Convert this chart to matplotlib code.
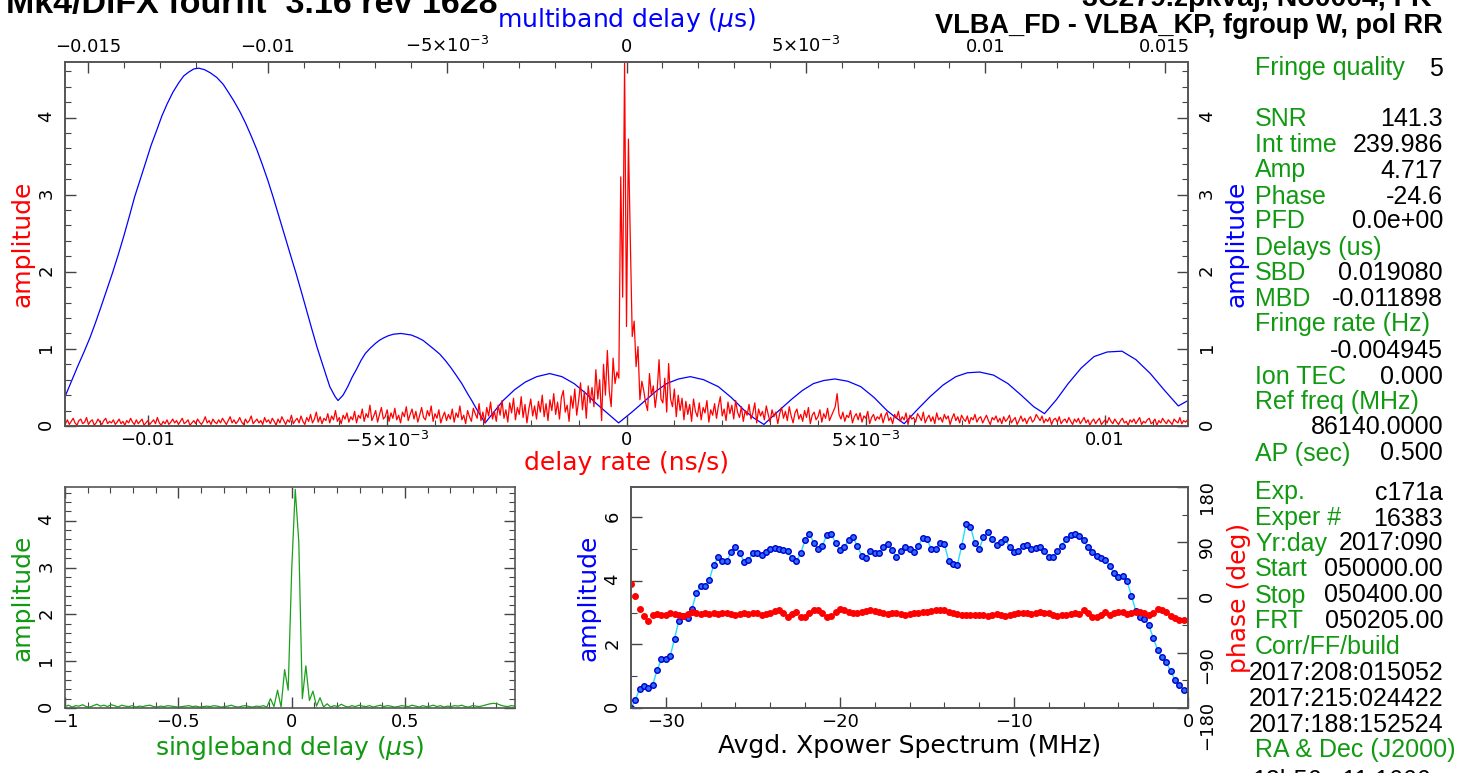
import numpy as np
import matplotlib
matplotlib.use('Agg')
import matplotlib.pyplot as plt
from matplotlib.ticker import MultipleLocator, FixedLocator, FixedFormatter

W, H = 1462, 773

# delay rate spectrum (red), amplitude x100, one sample every 4e-5 ns/s
rate_start = -0.01172
rate_step = 0.00004
rate_amp = [
    3, 8, 2, 6, 10, 4, 1, 7, 9, 3, 5, 11, 2, 6, 8, 1, 4, 9, 5, 2, 7, 10, 3, 6, 4,
    8, 2, 5, 9, 3, 6, 1, 7, 4, 10, 5, 2, 8, 3, 6, 9, 1, 4, 7, 2, 5, 8, 3, 11, 4,
    1, 6, 3, 8, 2, 5, 9, 4, 7, 2, 6, 10, 3, 5, 8, 1, 4, 7, 3, 9, 5, 2, 6, 12, 4,
    7, 2, 9, 5, 3, 8, 4, 10, 6, 2, 7, 12, 4, 8, 3, 6, 11, 5, 2, 9, 4, 7, 13, 3, 6,
    9, 4, 7, 2, 11, 5, 8, 3, 10, 6, 1, 9, 4, 12, 7, 2, 8, 5, 14, 3, 7, 10, 4, 13, 6,
    2, 11, 6, 15, 4, 9, 18, 5, 12, 3, 10, 7, 16, 4, 13, 8, 20, 6, 11, 3, 14, 9, 17, 5, 12,
    8, 19, 4, 14, 10, 22, 6, 16, 11, 27, 7, 13, 20, 5, 15, 24, 9, 12, 21, 6, 17, 10, 23, 8, 14,
    4, 18, 12, 25, 7, 15, 22, 9, 19, 5, 14, 24, 11, 8, 20, 13, 26, 6, 16, 10, 21, 4, 12, 18, 7,
    15, 9, 22, 5, 17, 11, 26, 8, 14, 3, 20, 12, 6, 23, 16, 10, 29, 7, 18, 4, 24, 13, 31, 9, 19,
    6, 27, 14, 33, 10, 21, 5, 30, 17, 36, 8, 24, 15, 38, 11, 28, 4, 22, 35, 13, 26, 9, 32, 18, 40,
    12, 29, 7, 34, 20, 42, 15, 31, 9, 37, 46, 18, 27, 6, 39, 23, 48, 14, 33, 56, 21, 45, 10, 52, 30,
    50, 25, 73, 35, 60, 7, 80, 40, 98, 45, 25, 88, 55, 70, 62, 323, 167, 472, 129, 372, 240, 116, 136, 77, 103,
    34, 58, 46, 30, 20, 68, 40, 52, 24, 45, 86, 35, 30, 62, 18, 81, 35, 25, 48, 12, 40, 20, 36, 8, 32,
    15, 28, 6, 35, 19, 12, 30, 8, 24, 17, 33, 5, 21, 14, 29, 10, 26, 38, 13, 22, 7, 31, 16, 27, 9,
    33, 18, 11, 25, 6, 20, 14, 28, 9, 17, 30, 4, 22, 13, 19, 8, 26, 15, 5, 21, 12, 18, 3, 16, 24,
    10, 19, 7, 25, 13, 4, 17, 22, 9, 15, 6, 20, 11, 24, 3, 14, 18, 8, 12, 21, 5, 16, 10, 23, 7,
    13, 19, 25, 42, 15, 9, 18, 6, 14, 11, 20, 4, 12, 16, 8, 17, 5, 13, 10, 19, 3, 11, 15, 7, 12,
    9, 16, 4, 13, 18, 7, 11, 3, 15, 10, 19, 6, 12, 8, 17, 2, 14, 9, 11, 5, 16, 12, 7, 18, 4,
    10, 14, 6, 12, 3, 17, 8, 11, 5, 15, 9, 13, 2, 10, 16, 7, 12, 4, 14, 9, 6, 13, 3, 11, 8,
    15, 5, 10, 12, 4, 9, 14, 7, 2, 11, 8, 13, 5, 10, 3, 12, 6, 9, 14, 4, 8, 11, 2, 7, 13,
    6, 10, 3, 9, 12, 5, 8, 15, 11, 7, 13, 4, 9, 6, 11, 2, 8, 10, 5, 12, 3, 7, 9, 4, 11,
    6, 2, 9, 5, 10, 3, 7, 11, 4, 8, 1, 6, 9, 3, 7, 10, 2, 5, 8, 4, 11, 6, 3, 9, 5,
    2, 7, 10, 4, 6, 1, 8, 5, 9, 3, 7, 11, 2, 6, 4, 8, 10, 3, 5, 9, 1, 7, 4, 10, 6,
    3, 8, 5, 2, 9, 6, 4, 11, 3, 7, 5, 8,
]

# multiband delay function (blue)
mbd_delay = [
    -0.01565, -0.01548, -0.01530, -0.01512, -0.01495, -0.01480, -0.01465, -0.01449, -0.01433,
    -0.01416, -0.01400, -0.01385, -0.01371, -0.01355, -0.01340, -0.01325, -0.01309, -0.01295,
    -0.01280, -0.01264, -0.01248, -0.01234, -0.01220, -0.01206, -0.01192, -0.01176, -0.01160,
    -0.01142, -0.01124, -0.01110, -0.01095, -0.01078, -0.01062, -0.01046, -0.01030, -0.01015,
    -0.01000, -0.00985, -0.00970, -0.00954, -0.00938, -0.00921, -0.00905, -0.00890, -0.00876,
    -0.00863, -0.00850, -0.00838, -0.00827, -0.00812, -0.00804,
    -0.00790, -0.00777, -0.00765, -0.00752, -0.00740, -0.00728, -0.00714, -0.00700, -0.00689,
    -0.00678, -0.00664, -0.00650, -0.00629, -0.00600,
    -0.00584, -0.00567, -0.00551, -0.00535, -0.00520, -0.00505, -0.00490, -0.00475, -0.00459,
    -0.00443, -0.00430, -0.00418, -0.00406, -0.00394,
    -0.00370, -0.00344, -0.00312, -0.00282, -0.00250, -0.00214, -0.00180, -0.00146, -0.00115,
    -0.00084, -0.00052, -0.00022,
    0.00015, 0.00052, 0.00082, 0.00112, 0.00145, 0.00178, 0.00215, 0.00256, 0.00292, 0.00329,
    0.00356, 0.00383,
    0.00420, 0.00461, 0.00490, 0.00521, 0.00550, 0.00581, 0.00617, 0.00653, 0.00690, 0.00726,
    0.00750, 0.00774,
    0.00810, 0.00846, 0.00882, 0.00918, 0.00950, 0.00984, 0.01023, 0.01063, 0.01100, 0.01135,
    0.01165,
    0.01198, 0.01231, 0.01267, 0.01303, 0.01340, 0.01381, 0.01420, 0.01460, 0.01500, 0.01538,
    0.01565,
]
mbd_amp = [
    0.38, 0.57, 0.77, 0.96, 1.15, 1.34, 1.54, 1.76, 1.98,
    2.23, 2.48, 2.73, 2.97, 3.20, 3.42, 3.64, 3.84, 4.02,
    4.18, 4.33, 4.45, 4.54, 4.59, 4.63, 4.64, 4.62, 4.58,
    4.52, 4.43, 4.33, 4.22, 4.08, 3.93, 3.76, 3.58, 3.39,
    3.19, 2.97, 2.74, 2.49, 2.24, 1.98, 1.72, 1.47, 1.24,
    1.03, 0.84, 0.67, 0.51, 0.38, 0.33,
    0.40, 0.51, 0.63, 0.74, 0.85, 0.94, 1.01, 1.07, 1.11,
    1.14, 1.17, 1.19, 1.20, 1.18,
    1.15, 1.11, 1.05, 0.99, 0.93, 0.85, 0.76, 0.66, 0.55,
    0.42, 0.32, 0.22, 0.13, 0.04,
    0.18, 0.33, 0.47, 0.57, 0.64, 0.68, 0.64, 0.55, 0.43,
    0.29, 0.16, 0.04,
    0.18, 0.33, 0.45, 0.55, 0.61, 0.64, 0.60, 0.51, 0.37, 0.20,
    0.10, 0.02,
    0.18, 0.35, 0.46, 0.55, 0.59, 0.61, 0.58, 0.51, 0.37, 0.20,
    0.11, 0.03,
    0.21, 0.38, 0.53, 0.64, 0.69, 0.70, 0.66, 0.55, 0.40, 0.25,
    0.16,
    0.34, 0.55, 0.75, 0.90, 0.96, 0.97, 0.86, 0.68, 0.46, 0.26,
    0.33,
]

# singleband delay function (green), amplitude x100, step 1/64 us from -1
sbd_start = -1.0
sbd_step = 1 / 64
sbd_amp = [
    3, 6, 2, 5, 4, 7, 3, 2, 5, 8, 4, 6, 3, 7, 5, 2, 6, 4, 3, 5,
    2, 4, 3, 5, 6, 3, 2, 4, 3, 5, 4, 3, 2, 3, 4, 5, 3, 4, 2, 3,
    4, 3, 5, 4, 2, 3, 4, 6, 3, 2, 4, 5, 3, 2, 4,
    3, 5, 2, 20, 3, 38, 2, 82, 38, 295, 467, 355, 20, 90, 16, 36, 4, 22, 2, 9,
    2, 5, 3, 8, 4,
    2, 5, 3, 6, 4, 3, 5, 2, 4, 6, 3, 5, 4, 2, 3, 5, 4, 3, 6, 4,
    2, 5, 3, 4, 6, 3, 5, 2, 4, 3, 5, 4, 6, 3, 2, 5, 4, 3, 5, 7,
    9, 10, 9, 6, 4, 3, 5, 4,
]

# averaged cross-power spectrum, 0.25 MHz channels from -32 MHz
freq_start = -32.0
freq_step = 0.25
xp_amp = [
    0, 26, 61, 69, 64, 73, 120, 153, 155, 163,
    218, 275, 289, 284, 312, 361, 385, 383, 404, 450,
    474, 464, 462, 490, 508, 487, 461, 467, 488, 489,
    483, 490, 501, 503, 501, 498, 493, 472, 462, 487,
    529, 548, 521, 501, 511, 546, 548, 521, 497, 506,
    529, 537, 511, 480, 472, 493, 487, 487, 508, 518,
    497, 476, 493, 506, 501, 490, 511, 535, 532, 501,
    501, 521, 516, 464, 455, 451, 511, 581, 571, 521,
    501, 537, 553, 532, 513, 524, 532, 506, 490, 495,
    509, 513, 501, 503, 506, 495, 476, 476, 493, 511,
    532, 546, 548, 542, 529, 506, 490, 480, 472, 467,
    448, 424, 414, 415, 399, 354, 305, 286, 281, 260,
    221, 183, 160, 145, 116, 89, 71, 58,
]
xp_phase = [
    22, 2, -19, -30, -38, -28, -27, -28, -29, -26,
    -27, -29, -30, -27, -24, -26, -27, -26, -27, -26,
    -27, -26, -25, -27, -28, -27, -26, -27, -25, -26,
    -28, -27, -26, -22, -21, -26, -32, -27, -24, -31,
    -32, -26, -21, -20, -25, -31, -30, -23, -19, -21,
    -24, -26, -25, -23, -22, -21, -22, -24, -26, -27,
    -26, -25, -27, -28, -27, -26, -25, -24, -23, -22,
    -21, -20, -21, -23, -25, -27, -28, -29, -28, -29,
    -28, -29, -30, -28, -27, -29, -30, -28, -27, -26,
    -25, -26, -27, -25, -24, -25, -26, -28, -30, -29,
    -28, -27, -26, -27, -21, -25, -32, -32, -28, -23,
    -28, -25, -24, -23, -27, -26, -24, -23, -26, -29,
    -25, -19, -20, -24, -30, -33, -36, -36,
]

rate_ticks = [-0.01, -0.005, 0, 0.005, 0.01]
rate_labels = ['−0.01', '−5×10$^{-3}$', '0', '5×10$^{-3}$', '0.01']
mbd_ticks = [-0.015, -0.01, -0.005, 0, 0.005, 0.01, 0.015]
mbd_labels = ['−0.015', '−0.01', '−5×10$^{-3}$', '0', '5×10$^{-3}$', '0.01', '0.015']
sbd_ticks = [-1, -0.5, 0, 0.5]
sbd_labels = ['−1', '−0.5', '0', '0.5']
freq_ticks = [-30, -20, -10, 0]
freq_labels = ['−30', '−20', '−10', '0']
phase_ticks = [-180, -90, 0, 90, 180]
phase_labels = ['−180', '−90', '0', '90', '180']

info_rows = [
    ('Fringe quality', '5', 66),
    ('SNR', '141.3', 117), ('Int time', '239.986', 142), ('Amp', '4.717', 168),
    ('Phase', '-24.6', 194), ('PFD', '0.0e+00', 219), ('Delays (us)', '', 245),
    ('SBD', '0.019080', 270), ('MBD', '-0.011898', 296), ('Fringe rate (Hz)', '', 322),
    ('', '-0.004945', 348), ('Ion TEC', '0.000', 374), ('Ref freq (MHz)', '', 399),
    ('', '86140.0000', 425), ('AP (sec)', '0.500', 451),
    ('Exp.', 'c171a', 490), ('Exper #', '16383', 516), ('Yr:day', '2017:090', 541),
    ('Start', '050000.00', 567), ('Stop', '050400.00', 593), ('FRT', '050205.00', 618),
    ('Corr/FF/build', '', 645), ('', '2017:208:015052', 670), ('', '2017:215:024422', 696),
    ('', '2017:188:152524', 722), ('RA & Dec (J2000)', '', 748), ('', '12h56m11.1666s', 778),
]

GREEN_TXT = '#119a11'
GREEN_LN = '#1aa01a'
FRAME = '#555555'
LBL = 18


def box(l, t, r, b):
    return [l / W, 1 - b / H, (r - l) / W, (b - t) / H]


def style(ax):
    ax.tick_params(which='both', direction='in', colors='#444444', labelcolor='black', labelsize=13)
    ax.tick_params(which='major', length=8, width=1)
    ax.tick_params(which='minor', length=4, width=0.8)
    ax.tick_params(axis='y', labelrotation=90, pad=7)
    for s in ax.spines.values():
        s.set_color(FRAME)
        s.set_linewidth(1.2)


fig = plt.figure(figsize=(W / 100, H / 100), dpi=100)

# ---- top panel: delay rate (red) and multiband delay (blue)
ax1 = fig.add_axes(box(65, 62, 1188, 426))
axm = ax1.twiny()
rate_x = rate_start + rate_step * np.arange(len(rate_amp))
ax1.plot(rate_x, np.array(rate_amp) / 100, color='red', lw=0.9)
axm.plot(mbd_delay, mbd_amp, color='blue', lw=0.9)
ax1.set_zorder(axm.get_zorder() + 1)
ax1.patch.set_visible(False)

ax1.set_xlim(-0.01173, 0.01173)
ax1.set_ylim(0, 4.72)
axm.set_xlim(-0.01565, 0.01565)
style(ax1)
style(axm)
ax1.xaxis.set_major_locator(FixedLocator(rate_ticks))
ax1.xaxis.set_major_formatter(FixedFormatter(rate_labels))
ax1.xaxis.set_minor_locator(MultipleLocator(0.001))
ax1.yaxis.set_major_locator(MultipleLocator(1))
ax1.yaxis.set_minor_locator(MultipleLocator(0.2))
ax1.tick_params(axis='y', which='both', left=True, right=True, labelleft=True, labelright=True)
ax1.tick_params(axis='x', which='both', top=False)
axm.xaxis.set_major_locator(FixedLocator(mbd_ticks))
axm.xaxis.set_major_formatter(FixedFormatter(mbd_labels))
axm.xaxis.set_minor_locator(MultipleLocator(0.001))
axm.tick_params(axis='x', which='both', bottom=False, pad=4)
ax1.set_xlabel('delay rate (ns/s)', color='red', fontsize=LBL, labelpad=0)
ax1.set_ylabel('amplitude', color='red', fontsize=LBL, labelpad=2)
axm.set_xlabel('multiband delay ($\\mu$s)', color='blue', fontsize=LBL, labelpad=7)
fig.text(1236 / W, 1 - 244 / H, 'amplitude', color='blue', fontsize=LBL,
         rotation=90, ha='center', va='center')

# ---- bottom left: singleband delay
ax2 = fig.add_axes(box(65, 487, 515, 708))
sbd_x = sbd_start + sbd_step * np.arange(len(sbd_amp))
ax2.plot(sbd_x, np.array(sbd_amp) / 100, color=GREEN_LN, lw=0.9)
ax2.set_xlim(-1, 0.985)
ax2.set_ylim(0, 4.72)
style(ax2)
ax2.xaxis.set_major_locator(FixedLocator(sbd_ticks))
ax2.xaxis.set_major_formatter(FixedFormatter(sbd_labels))
ax2.xaxis.set_minor_locator(MultipleLocator(0.1))
ax2.yaxis.set_major_locator(MultipleLocator(1))
ax2.yaxis.set_minor_locator(MultipleLocator(0.2))
ax2.tick_params(which='both', top=True, right=True)
ax2.set_xlabel('singleband delay ($\\mu$s)', color=GREEN_TXT, fontsize=LBL, labelpad=2)
ax2.set_ylabel('amplitude', color=GREEN_TXT, fontsize=LBL, labelpad=2)

# ---- bottom right: cross-power spectrum
ax3 = fig.add_axes(box(631, 487, 1188, 708))
ax3b = ax3.twinx()
freq_x = freq_start + freq_step * np.arange(len(xp_amp))
ax3.plot(freq_x, np.array(xp_amp) / 100, color='#22ddff', lw=1.0)
ax3.plot(freq_x, np.array(xp_amp) / 100, 'o', ms=4.0, mfc='#2a6cff', mec='#0000c8', mew=1.0)
ax3b.plot(freq_x, xp_phase, 'o', ms=4.0, color='red', mec='red')
ax3.set_xlim(-32, 0)
ax3.set_ylim(0, 6.96)
ax3b.set_ylim(-180, 180)
style(ax3)
style(ax3b)
ax3.xaxis.set_major_locator(FixedLocator(freq_ticks))
ax3.xaxis.set_major_formatter(FixedFormatter(freq_labels))
ax3.xaxis.set_minor_locator(MultipleLocator(2))
ax3.yaxis.set_major_locator(MultipleLocator(2))
ax3.yaxis.set_minor_locator(MultipleLocator(1))
ax3b.yaxis.set_major_locator(FixedLocator(phase_ticks))
ax3b.yaxis.set_major_formatter(FixedFormatter(phase_labels))
ax3b.yaxis.set_minor_locator(MultipleLocator(45))
ax3.set_xlabel('Avgd. Xpower Spectrum (MHz)', color='black', fontsize=LBL, labelpad=2)
ax3.set_ylabel('amplitude', color='blue', fontsize=LBL, labelpad=2)
ax3b.set_ylabel('phase (deg)', color='red', fontsize=LBL, labelpad=8)

# ---- headers (cut at the top edge like the original)
hdr = dict(family='Liberation Sans', fontweight='bold', color='black')
fig.text(497 / W, 1 - 13 / H, 'Mk4/DiFX fourfit  3.16 rev 1628', ha='right', va='baseline',
         fontsize=24.5, **hdr)
fig.text(1432 / W, 1 - 6 / H, '3C279.zpkvaj, No0004, FK', ha='right', va='baseline',
         fontsize=20.5, **hdr)
fig.text(1443 / W, 1 - 33 / H, 'VLBA_FD - VLBA_KP, fgroup W, pol RR', ha='right', va='baseline',
         fontsize=19.5, **hdr)

# ---- fringe summary text
for label, value, y in info_rows:
    if label:
        fig.text(1255 / W, 1 - y / H, label, color=GREEN_TXT, family='Liberation Sans',
                 fontsize=18, ha='left', va='center_baseline')
    if value:
        fig.text(1443 / W, 1 - y / H, value, color='black', family='Liberation Sans',
                 fontsize=18, ha='right', va='center_baseline')

fig.savefig('out.png', dpi=100)
